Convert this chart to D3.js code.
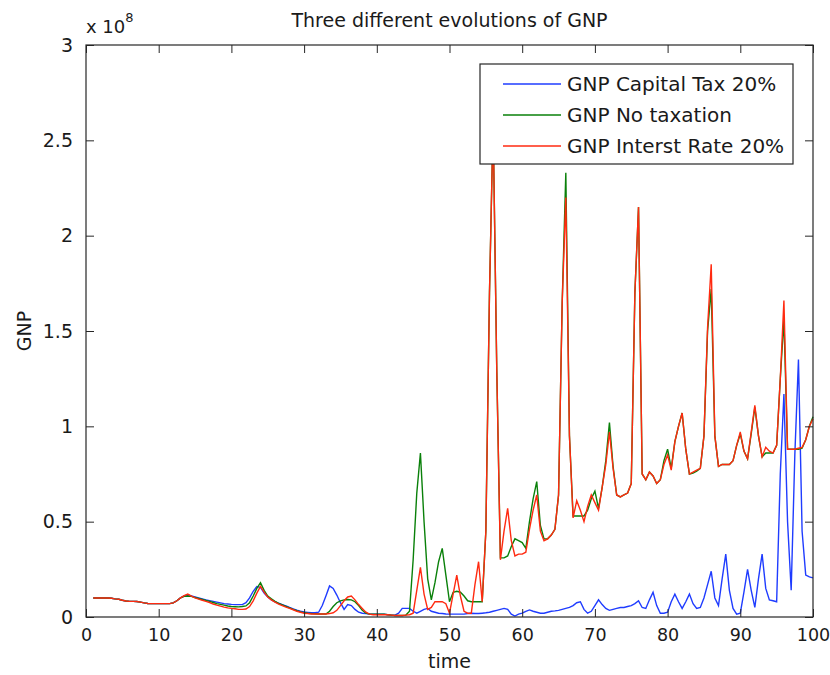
<!DOCTYPE html>
<html>
<head>
<meta charset="utf-8">
<script src="https://cdn.jsdelivr.net/npm/d3@7"></script>
<style>
  html, body { margin: 0; padding: 0; background: #fff; }
  svg { display: block; }
  text { font-family: "DejaVu Sans", "Liberation Sans", sans-serif; fill: #1a1a1a; }
</style>
</head>
<body>
<svg id="chart" width="830" height="675"></svg>
<script>
// ---- data (GNP in units of 1e8), sampled every 0.5 time units from t=1 to t=100 ----
const time = d3.range(2, 201).map(i => i / 2);

const gnpCapitalTax = [
  .100,.100,.100,.100,.100,.098,.095,.093,.088,.084,
  .082,.082,.081,.078,.074,.071,.070,.070,.070,.070,
  .070,.070,.074,.085,.100,.110,.115,.110,.105,.100,
  .095,.090,.086,.082,.078,.074,.070,.068,.066,.065,
  .065,.065,.075,.100,.135,.160,.155,.125,.105,.090,
  .080,.072,.065,.058,.050,.043,.036,.030,.026,.024,
  .022,.022,.025,.060,.110,.163,.150,.115,.075,.040,
  .065,.060,.040,.025,.020,.018,.016,.015,.015,.015,
  .015,.012,.010,.010,.020,.045,.045,.045,.030,.020,
  .030,.040,.045,.030,.025,.020,.018,.016,.015,.015,
  .015,.015,.015,.018,.020,.018,.018,.020,.022,.025,
  .030,.035,.040,.045,.040,.015,.005,.015,.020,.030,
  .037,.030,.025,.020,.020,.025,.030,.032,.035,.040,
  .045,.050,.060,.075,.080,.040,.020,.030,.060,.090,
  .065,.045,.035,.040,.045,.050,.050,.055,.060,.070,
  .085,.050,.045,.090,.130,.060,.020,.020,.025,.080,
  .120,.080,.045,.080,.120,.070,.045,.050,.100,.170,
  .240,.100,.060,.200,.330,.140,.045,.015,.020,.130,
  .250,.140,.050,.200,.330,.150,.090,.085,.080,.750,
  1.170,.500,.140,.850,1.350,.450,.220,.210,.205
];

const gnpNoTaxation = [
  .100,.100,.100,.100,.100,.098,.095,.093,.088,.084,
  .082,.082,.081,.078,.074,.071,.070,.070,.070,.070,
  .070,.070,.074,.085,.100,.108,.110,.108,.102,.097,
  .092,.087,.082,.076,.070,.066,.062,.058,.055,.054,
  .053,.055,.058,.075,.110,.150,.180,.140,.110,.095,
  .082,.072,.064,.056,.048,.040,.033,.027,.023,.020,
  .018,.017,.016,.016,.016,.030,.055,.075,.085,.090,
  .092,.090,.080,.060,.035,.020,.015,.015,.015,.015,
  .015,.012,.010,.008,.008,.008,.010,.030,.300,.650,
  .860,.500,.200,.090,.180,.290,.360,.220,.080,.130,
  .135,.130,.110,.085,.080,.080,.080,.080,.450,1.700,
  2.600,1.300,.310,.310,.320,.370,.410,.400,.390,.360,
  .500,.620,.710,.480,.410,.410,.430,.460,.640,1.650,
  2.330,.950,.530,.530,.530,.530,.560,.620,.660,.570,
  .680,.820,1.020,.790,.640,.630,.640,.650,.700,1.700,
  2.150,.750,.720,.760,.740,.700,.720,.820,.880,.780,
  .920,1.000,1.070,.880,.750,.755,.765,.780,.950,1.500,
  1.720,.950,.790,.800,.800,.800,.820,.900,.960,.870,
  .830,.960,1.100,.950,.840,.860,.860,.860,.900,1.250,
  1.560,.880,.880,.880,.880,.885,.930,1.000,1.050
];

const gnpInterestRate = [
  .100,.100,.100,.100,.100,.098,.095,.093,.088,.084,
  .082,.082,.081,.078,.074,.071,.070,.070,.070,.070,
  .070,.070,.074,.085,.100,.112,.120,.110,.100,.094,
  .088,.082,.076,.068,.062,.057,.052,.048,.045,.043,
  .040,.040,.042,.055,.085,.125,.160,.130,.105,.090,
  .078,.068,.060,.052,.045,.038,.030,.025,.020,.018,
  .016,.016,.016,.016,.016,.018,.022,.035,.060,.085,
  .105,.110,.090,.065,.045,.025,.015,.012,.012,.012,
  .012,.012,.010,.008,.008,.008,.010,.012,.020,.140,
  .260,.120,.040,.050,.080,.080,.080,.070,.020,.120,
  .220,.110,.030,.020,.020,.170,.290,.080,.450,1.700,
  2.600,1.300,.300,.450,.570,.400,.320,.330,.330,.340,
  .460,.560,.640,.450,.400,.410,.430,.460,.640,1.650,
  2.200,.950,.520,.610,.560,.500,.580,.640,.600,.560,
  .680,.800,.970,.780,.640,.630,.640,.650,.700,1.700,
  2.150,.750,.720,.760,.740,.700,.720,.800,.850,.770,
  .920,1.000,1.070,.880,.750,.760,.770,.780,.950,1.520,
  1.850,.950,.790,.800,.800,.800,.820,.900,.970,.870,
  .830,.970,1.110,.950,.840,.890,.870,.860,.900,1.250,
  1.660,.880,.880,.880,.885,.890,.930,1.000,1.040
];

const seriesNames = ["GNP Capital Tax 20%", "GNP No taxation", "GNP Interst Rate 20%"];
const seriesColors = ["#1f3cff", "#0a800a", "#ff2a10"];
const xTicks = [0, 10, 20, 30, 40, 50, 60, 70, 80, 90, 100];
const yTicks = [0, 0.5, 1, 1.5, 2, 2.5, 3];
const titleText = "Three different evolutions of GNP";
const xLabel = "time";
const yLabel = "GNP";

// ---- layout ----
const svg = d3.select("#chart");
const L = 86, R = 813, T = 45, B = 617;
const FS = 19;

const x = d3.scaleLinear().domain([0, 100]).range([L, R]);
const y = d3.scaleLinear().domain([0, 3]).range([B, T]);

// lines
const allSeries = [gnpCapitalTax, gnpNoTaxation, gnpInterestRate];
const line = d3.line().x((d, i) => x(time[i])).y(d => y(d));
const plot = svg.append("g");
allSeries.forEach((s, k) => {
  plot.append("path")
    .datum(s)
    .attr("fill", "none")
    .attr("stroke", seriesColors[k])
    .attr("stroke-width", 1.4)
    .attr("stroke-linejoin", "miter")
    .attr("d", line);
});

// axes (MATLAB style: ticks inside, box on)
const fmt = d => String(d);
const axStyle = fs => g => {
  g.selectAll(".domain").remove();
  g.selectAll(".tick line").attr("stroke", "#262626").attr("stroke-width", 1);
  g.selectAll(".tick text").attr("font-size", fs).attr("font-family", "DejaVu Sans, sans-serif").attr("fill", "#1a1a1a");
};
svg.append("g").attr("transform", `translate(0,${B})`)
  .call(d3.axisBottom(x).tickValues(xTicks).tickFormat(fmt).tickSizeInner(-8).tickSizeOuter(0).tickPadding(12))
  .call(axStyle(17.5));
svg.append("g").attr("transform", `translate(0,${T})`)
  .call(d3.axisTop(x).tickValues(xTicks).tickFormat("").tickSizeInner(-8).tickSizeOuter(0))
  .call(axStyle(FS));
svg.append("g").attr("transform", `translate(${L},0)`)
  .call(d3.axisLeft(y).tickValues(yTicks).tickFormat(fmt).tickSizeInner(-8).tickSizeOuter(0).tickPadding(13))
  .call(axStyle(FS));
svg.append("g").attr("transform", `translate(${R},0)`)
  .call(d3.axisRight(y).tickValues(yTicks).tickFormat("").tickSizeInner(-8).tickSizeOuter(0))
  .call(axStyle(FS));

svg.append("rect")
  .attr("x", L).attr("y", T).attr("width", R - L).attr("height", B - T)
  .attr("fill", "none").attr("stroke", "#262626").attr("stroke-width", 1.2);

// exponent label
const ex = svg.append("text").attr("x", L).attr("y", 33).attr("font-size", 18);
ex.append("tspan").text("x 10");
ex.append("tspan").attr("font-size", 13).attr("dy", -11).text("8");

// title & labels
svg.append("text").attr("x", (L + R) / 2).attr("y", 27).attr("text-anchor", "middle")
  .attr("font-size", FS).text(titleText);
svg.append("text").attr("x", (L + R) / 2).attr("y", 668).attr("text-anchor", "middle")
  .attr("font-size", FS).text(xLabel);
svg.append("text").attr("transform", `translate(31,${(T + B) / 2}) rotate(-90)`)
  .attr("text-anchor", "middle").attr("font-size", FS).text(yLabel);

// legend
const lg = svg.append("g");
lg.append("rect").attr("x", 480).attr("y", 64).attr("width", 313).attr("height", 100)
  .attr("fill", "#fff").attr("stroke", "#262626").attr("stroke-width", 1.2);
seriesNames.forEach((name, k) => {
  const ry = 84 + k * 31;
  lg.append("line").attr("x1", 503).attr("x2", 561).attr("y1", ry).attr("y2", ry)
    .attr("stroke", seriesColors[k]).attr("stroke-width", 1.4);
  lg.append("text").attr("x", 567).attr("y", ry + 7).attr("font-size", 20).text(name);
});
</script>
</body>
</html>
